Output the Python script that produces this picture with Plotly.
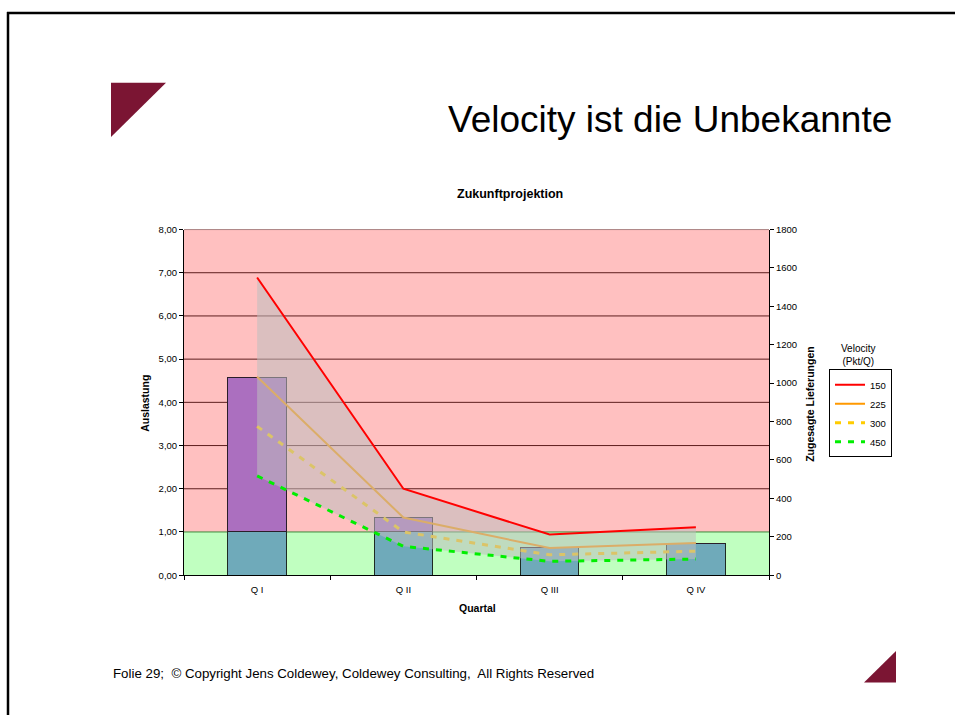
import plotly.graph_objects as go

# ---------------- data ----------------
quarters = ["Q I", "Q II", "Q III", "Q IV"]
auslastung = [4.58, 1.34, 0.64, 0.73]          # left axis (bars)
threshold = 1.0                                  # green/red boundary

velocity_labels = ["150", "225", "300", "450"]
lief_150 = [1550, 450, 212, 250]
lief_225 = [1033, 300, 141, 167]
lief_300 = [775, 225, 106, 125]
lief_450 = [517, 150, 72, 84]

left_ticks = [0, 1, 2, 3, 4, 5, 6, 7, 8]
right_ticks = [0, 200, 400, 600, 800, 1000, 1200, 1400, 1600, 1800]

W, H = 955, 720
def fx(x):
    return x / W
def fy(y):
    return 1 - y / H

FONT = "Arial, Liberation Sans, sans-serif"

fig = go.Figure()

# bars split at threshold
below = [min(v, threshold) for v in auslastung]
above = [max(v - threshold, 0) for v in auslastung]
fig.add_trace(go.Bar(x=quarters, y=below, marker=dict(color="#6FAABA", line=dict(color="#1E2A22", width=1)),
                     showlegend=False, hoverinfo="skip", yaxis="y"))
fig.add_trace(go.Bar(x=quarters, y=above, marker=dict(color="#AB6FBF", line=dict(color="#2A1E2A", width=1)),
                     showlegend=False, hoverinfo="skip", yaxis="y"))

# lines (orange & yellow first, under the fill)
fig.add_trace(go.Scatter(x=quarters, y=lief_225, name=velocity_labels[1], mode="lines",
                         line=dict(color="#FF9900", width=2), yaxis="y2", legendrank=2))
fig.add_trace(go.Scatter(x=quarters, y=lief_300, name=velocity_labels[2], mode="lines",
                         line=dict(color="#FFCC00", width=3, dash="6px,7px"), yaxis="y2", legendrank=3))
fig.add_trace(go.Scatter(x=quarters, y=lief_450, name=velocity_labels[3], mode="lines",
                         line=dict(color="#00EE00", width=3, dash="6px,7px"), yaxis="y2", legendrank=4))
# grey band between 150 and 450
fig.add_trace(go.Scatter(x=quarters, y=lief_150, mode="lines", line=dict(width=0, color="rgba(0,0,0,0)"),
                         fill="tonexty", fillcolor="rgba(190,190,190,0.55)", yaxis="y2",
                         showlegend=False, hoverinfo="skip"))
fig.add_trace(go.Scatter(x=quarters, y=lief_150, name=velocity_labels[0], mode="lines",
                         line=dict(color="#FF0000", width=2), yaxis="y2", legendrank=1))

shapes = [
    dict(type="rect", xref="x domain", yref="y", x0=0, x1=1, y0=threshold, y1=left_ticks[-1],
         fillcolor="#FFC0C0", line=dict(width=0), layer="below"),
    dict(type="rect", xref="x domain", yref="y", x0=0, x1=1, y0=0, y1=threshold,
         fillcolor="#C0FFC0", line=dict(width=0), layer="below"),
]
for t in left_ticks:
    if t > threshold:
        shapes.append(dict(type="line", xref="x domain", yref="y", x0=0, x1=1, y0=t, y1=t,
                           line=dict(color="#5E1E1E", width=1), layer="below"))
shapes += [
    dict(type="line", xref="x domain", yref="y", x0=0, x1=1, y0=threshold, y1=threshold,
         line=dict(color="#3C8C3C", width=1), layer="below"),
    # slide frame
    dict(type="line", xref="paper", yref="paper", x0=fx(7), x1=1, y0=fy(7), y1=fy(7),
         line=dict(color="black", width=2.5)),
    dict(type="line", xref="paper", yref="paper", x0=fx(8), x1=fx(8), y0=fy(6), y1=0,
         line=dict(color="black", width=2.5)),
    # triangles
    dict(type="path", xref="paper", yref="paper",
         path=f"M {fx(111)} {fy(78)} L {fx(166)} {fy(78)} L {fx(111)} {fy(133)} Z",
         fillcolor="#7B1533", line=dict(width=0)),
    dict(type="path", xref="paper", yref="paper",
         path=f"M {fx(864)} {fy(687)} L {fx(896)} {fy(687)} L {fx(896)} {fy(655)} Z",
         fillcolor="#7B1533", line=dict(width=0)),
]

annotations = [
    dict(text="Velocity ist die Unbekannte", x=fx(894), y=fy(115), xref="paper", yref="paper",
         xanchor="right", yanchor="middle", showarrow=False, font=dict(family=FONT, size=37, color="black")),
    dict(text="<b>Zukunftprojektion</b>", x=fx(510), y=fy(191), xref="paper", yref="paper",
         xanchor="center", yanchor="middle", showarrow=False, font=dict(family=FONT, size=12.5, color="black")),
    dict(text="<b>Auslastung</b>", x=fx(145), y=fy(404), xref="paper", yref="paper", textangle=-90,
         xanchor="center", yanchor="middle", showarrow=False, font=dict(family=FONT, size=10.5, color="black")),
    dict(text="<b>Zugesagte Lieferungen</b>", x=fx(810), y=fy(404), xref="paper", yref="paper", textangle=-90,
         xanchor="center", yanchor="middle", showarrow=False, font=dict(family=FONT, size=10.5, color="black")),
    dict(text="<b>Quartal</b>", x=fx(477), y=fy(611), xref="paper", yref="paper",
         xanchor="center", yanchor="middle", showarrow=False, font=dict(family=FONT, size=10.5, color="black")),
    dict(text="Velocity<br>(Pkt/Q)", x=fx(858), y=fy(354), xref="paper", yref="paper",
         xanchor="center", yanchor="middle", showarrow=False, align="center",
         font=dict(family=FONT, size=10, color="black")),
    dict(text="Folie 29;\u00a0 © Copyright Jens Coldewey, Coldewey Consulting,\u00a0 All Rights Reserved",
         x=fx(111), y=fy(678), xref="paper", yref="paper", xanchor="left", yanchor="middle",
         showarrow=False, font=dict(family=FONT, size=13.3, color="black")),
]

fig.update_layout(
    width=W, height=H, autosize=False,
    margin=dict(l=0, r=0, t=0, b=0),
    paper_bgcolor="white", plot_bgcolor="white",
    separators=",.",
    barmode="stack", bargap=0.6,
    font=dict(family=FONT, size=9.5, color="black"),
    xaxis=dict(domain=[fx(184), fx(769)], type="category", range=[-0.5, 3.5],
               tickson="boundaries", ticks="outside", ticklen=4, tickcolor="black",
               showline=True, linecolor="black", linewidth=1, showgrid=False,
               ticklabelstandoff=5, tickfont=dict(size=9.5)),
    yaxis=dict(domain=[fy(578), fy(227)], range=[0, 8], tickvals=left_ticks, tickformat=".2f",
               ticks="outside", ticklen=4, tickcolor="black", showline=True, linecolor="black",
               showgrid=False, zeroline=False, tickfont=dict(size=9.5)),
    yaxis2=dict(overlaying="y", side="right", range=[0, 1800], tickvals=right_ticks, tickformat="d",
                ticks="outside", ticklen=4, tickcolor="black", showline=True, linecolor="black",
                showgrid=False, zeroline=False, anchor="x", tickfont=dict(size=9.5)),
    legend=dict(x=fx(829), y=fy(369), xanchor="left", yanchor="top",
                bordercolor="black", borderwidth=1, bgcolor="white",
                font=dict(family=FONT, size=9.5), traceorder="normal",
                itemwidth=30, tracegroupgap=0),
    shapes=shapes,
    annotations=annotations,
    showlegend=True,
)

fig.write_html("out.html", config={"displayModeBar": False},
               post_script="document.body.style.margin='0';")
